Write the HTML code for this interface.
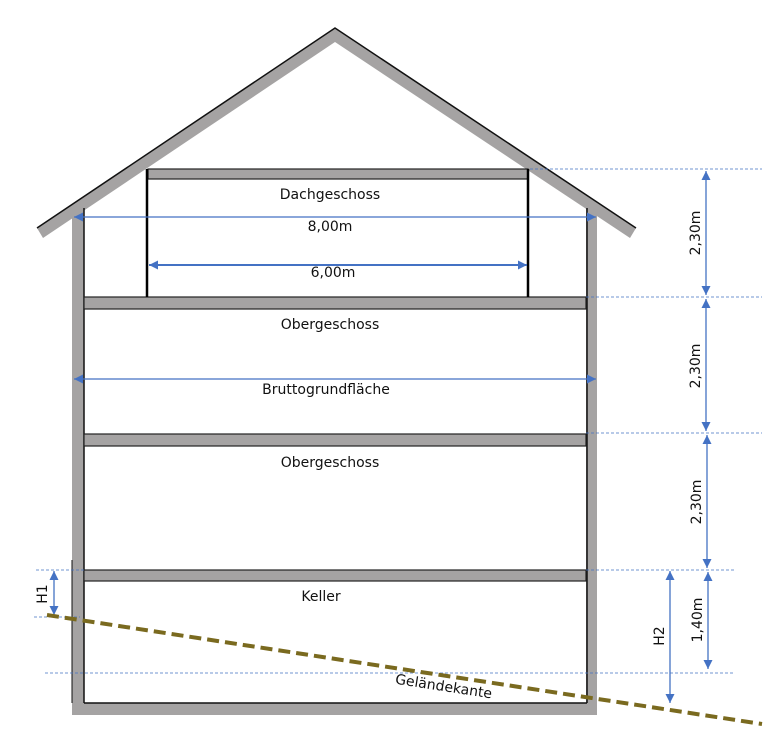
<!DOCTYPE html>
<html><head><meta charset="utf-8"><style>
html,body{margin:0;padding:0;background:#fff;}
svg{display:block;}
text{font-family:"DejaVu Sans","Liberation Sans",sans-serif;font-size:14px;fill:#111;}
</style></head><body>
<svg width="780" height="737" viewBox="0 0 780 737" xmlns="http://www.w3.org/2000/svg">
<defs>
<marker id="a" viewBox="0 0 10 10" refX="10" refY="5" markerWidth="10" markerHeight="9" markerUnits="userSpaceOnUse" orient="auto-start-reverse"><path d="M0,0L10,5L0,10z" fill="#4472c4"/></marker>
</defs>
<!-- roof -->
<polygon points="37,228 335,28 636,228 630,238 335,42 43,238" fill="#a5a3a3"/>
<polyline points="37,228 335,28 636,228" fill="none" stroke="#111" stroke-width="1.5"/>
<!-- walls -->
<rect x="72" y="208" width="12" height="507" fill="#a5a3a3"/>
<rect x="586" y="208" width="11" height="507" fill="#a5a3a3"/>
<rect x="72" y="703" width="525" height="12" fill="#a5a3a3"/>
<line x1="84" y1="208" x2="84" y2="703" stroke="#111" stroke-width="1.5"/>
<line x1="72" y1="560" x2="72" y2="703" stroke="#111" stroke-width="1"/>
<line x1="587" y1="208" x2="587" y2="703" stroke="#111" stroke-width="1.5"/>
<line x1="84" y1="703" x2="587" y2="703" stroke="#111" stroke-width="1.5"/>
<!-- slabs -->
<g fill="#a5a3a3" stroke="#222" stroke-width="1.2">
<rect x="84" y="297" width="502" height="12"/>
<rect x="84" y="434" width="502" height="12"/>
<rect x="84" y="570" width="502" height="11"/>
<rect x="148" y="169" width="380" height="10"/>
</g>
<line x1="147" y1="169" x2="147" y2="297" stroke="#000" stroke-width="2.5"/>
<line x1="528" y1="169" x2="528" y2="297" stroke="#000" stroke-width="2.5"/>
<!-- dashed guides -->
<g stroke="#4472c4" stroke-width="0.8" stroke-dasharray="3,2">
<line x1="530" y1="169" x2="762" y2="169"/>
<line x1="586" y1="297" x2="762" y2="297"/>
<line x1="586" y1="433" x2="762" y2="433"/>
<line x1="586" y1="570" x2="735" y2="570"/>
<line x1="36" y1="570" x2="84" y2="570"/>
<line x1="34" y1="617" x2="80" y2="617"/>
<line x1="45" y1="673" x2="735" y2="673"/>
</g>
<!-- dimension arrows -->
<g stroke="#4472c4" stroke-width="1.3" marker-start="url(#a)" marker-end="url(#a)">
<line x1="74" y1="217" x2="596" y2="217"/>
<line x1="149" y1="265" x2="527" y2="265" stroke-width="2"/>
<line x1="74" y1="379" x2="596" y2="379"/>
<line x1="706" y1="171" x2="706" y2="295"/>
<line x1="706" y1="299" x2="706" y2="431"/>
<line x1="707" y1="435" x2="707" y2="568"/>
<line x1="708" y1="572" x2="708" y2="669"/>
<line x1="670" y1="571" x2="670" y2="703"/>
<line x1="54" y1="571" x2="54" y2="615"/>
</g>
<!-- ground line -->
<line x1="47" y1="615" x2="762" y2="724" stroke="#7a6a1f" stroke-width="4" stroke-dasharray="12,6"/>
<!-- labels -->
<g text-anchor="middle">
<text x="330" y="199">Dachgeschoss</text>
<text x="330" y="231">8,00m</text>
<text x="333" y="277">6,00m</text>
<text x="330" y="329">Obergeschoss</text>
<text x="326" y="394">Bruttogrundfläche</text>
<text x="330" y="467">Obergeschoss</text>
<text x="321" y="601">Keller</text>
<text transform="translate(443,691) rotate(8.7)">Geländekante</text>
<text transform="translate(700,233) rotate(-90)">2,30m</text>
<text transform="translate(700,366) rotate(-90)">2,30m</text>
<text transform="translate(701,502) rotate(-90)">2,30m</text>
<text transform="translate(702,620) rotate(-90)">1,40m</text>
<text transform="translate(664,636) rotate(-90)">H2</text>
<text transform="translate(47,594) rotate(-90)">H1</text>
</g>
</svg>
</body></html>
